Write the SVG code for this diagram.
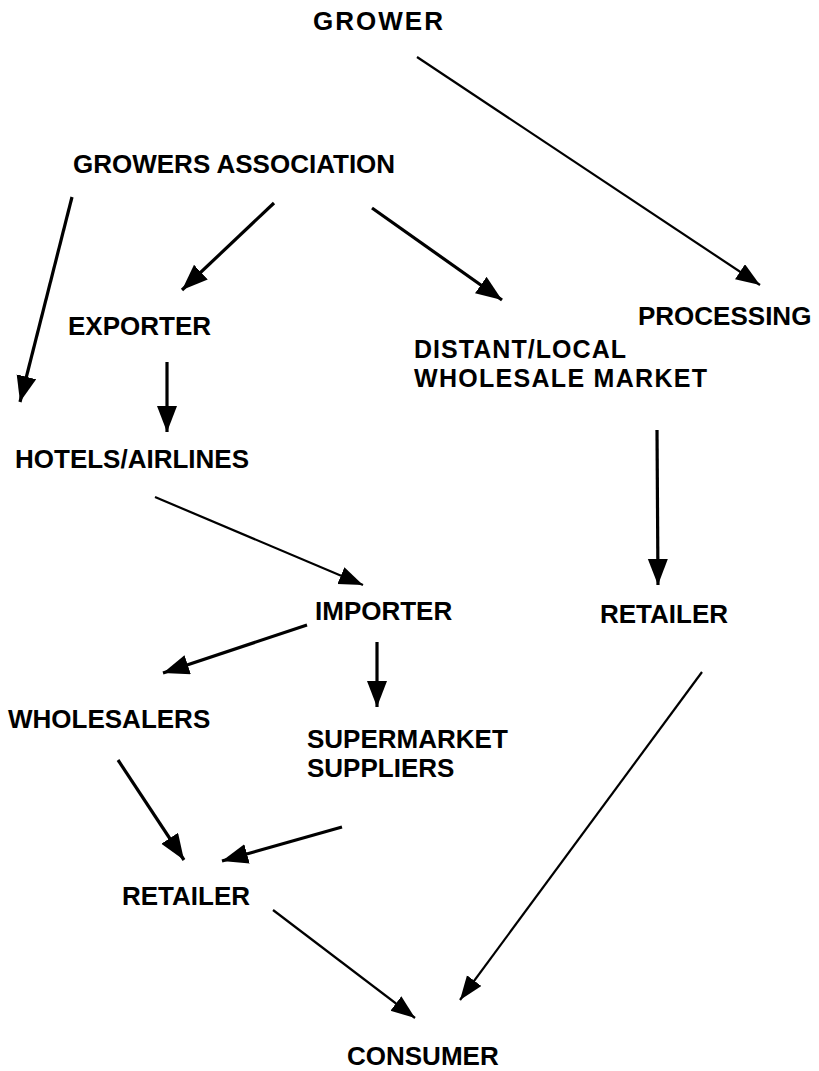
<svg xmlns="http://www.w3.org/2000/svg" width="819" height="1071" viewBox="0 0 819 1071">
<style>
.lbl{font-family:"Liberation Sans",Arial,sans-serif;font-weight:bold;font-size:26px;fill:#000}
.tight{font-size:25px}
.thick{stroke:#000;stroke-width:3.2;fill:none;marker-end:url(#ah)}
.thin{stroke:#000;stroke-width:2.2;fill:none;marker-end:url(#ahs)}
</style>
<defs>
<marker id="ah" markerUnits="userSpaceOnUse" markerWidth="28" markerHeight="22" refX="26" refY="10" orient="auto">
<path d="M0,0 L26,10 L0,20 Z" fill="#000"/>
</marker>
<marker id="ahs" markerUnits="userSpaceOnUse" markerWidth="26" markerHeight="20" refX="24" refY="9" orient="auto">
<path d="M0,0 L24,9 L0,18 Z" fill="#000"/>
</marker>
</defs>
<rect width="819" height="1071" fill="#fff"/>
<g id="connectors">
<line class="thin" x1="417" y1="57" x2="760" y2="285"/>
<line class="thick" x1="274" y1="203" x2="182" y2="290"/>
<line class="thick" x1="372" y1="208" x2="502" y2="300"/>
<line class="thick" x1="72" y1="197" x2="20" y2="402"/>
<line class="thick" x1="167" y1="362" x2="167" y2="432"/>
<line class="thin" x1="155" y1="497" x2="363" y2="585"/>
<line class="thick" x1="657" y1="430" x2="658" y2="585"/>
<line class="thick" x1="307" y1="625" x2="163" y2="673"/>
<line class="thick" x1="377" y1="642" x2="377" y2="707"/>
<line class="thick" x1="118" y1="760" x2="184" y2="860"/>
<line class="thick" x1="342" y1="827" x2="222" y2="861"/>
<line class="thin" x1="273" y1="910" x2="415" y2="1018"/>
<line class="thin" x1="702" y1="672" x2="460" y2="1000"/>
</g>
<g id="grower"><text class="lbl" x="313" y="30" textLength="130">GROWER</text></g>
<g id="growers-association"><text class="lbl" x="73" y="173">GROWERS ASSOCIATION</text></g>
<g id="exporter"><text class="lbl" x="68" y="335">EXPORTER</text></g>
<g id="processing"><text class="lbl" x="638" y="325">PROCESSING</text></g>
<g id="wholesale-market"><text class="lbl tight" x="414" y="358" textLength="212">DISTANT/LOCAL</text><text class="lbl tight" x="414" y="387" textLength="293">WHOLESALE MARKET</text></g>
<g id="hotels"><text class="lbl" x="15" y="468">HOTELS/AIRLINES</text></g>
<g id="importer"><text class="lbl" x="315" y="620">IMPORTER</text></g>
<g id="retailer-right"><text class="lbl" x="600" y="623">RETAILER</text></g>
<g id="wholesalers"><text class="lbl" x="8" y="728">WHOLESALERS</text></g>
<g id="supermarket"><text class="lbl" x="307" y="748">SUPERMARKET</text><text class="lbl" x="307" y="777">SUPPLIERS</text></g>
<g id="retailer-left"><text class="lbl" x="122" y="905">RETAILER</text></g>
<g id="consumer"><text class="lbl" x="347" y="1065">CONSUMER</text></g>
</svg>
